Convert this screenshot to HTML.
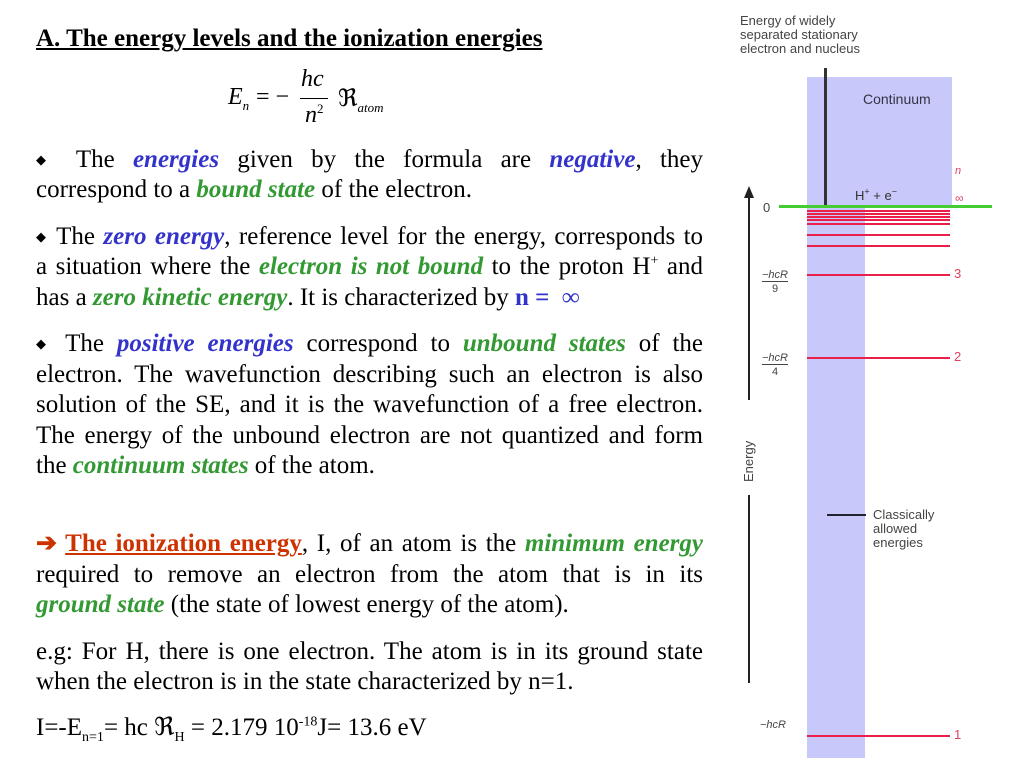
<!DOCTYPE html>
<html><head><meta charset="utf-8"><style>
body{margin:0;width:1024px;height:768px;background:#fff;position:relative;overflow:hidden;font-family:"Liberation Serif",serif;color:#000}
.l{position:absolute;left:36px;width:667px;font-size:25px;line-height:28px;white-space:nowrap}
.j{text-align:justify;text-align-last:justify}
.b{color:#3333cc;font-weight:bold;font-style:italic}
.g{color:#339933;font-weight:bold;font-style:italic}
.d{font-size:13px;vertical-align:3px}
sup,sub{line-height:0}
.s{font-family:"Liberation Sans",sans-serif;position:absolute;color:#444;font-size:13px;line-height:14px;white-space:nowrap}
</style></head><body>
<div class="l" style="top:25px;font-weight:bold;text-decoration:underline">A. The energy levels and the ionization energies</div>
<div style="position:absolute;left:228px;top:64px;font-size:24px;font-style:italic;width:200px;height:70px">
 <span style="position:absolute;left:0;top:20px">E<sub style="font-size:13px">n</sub></span>
 <span style="position:absolute;left:28px;top:20px;font-style:normal">= −</span>
 <span style="position:absolute;left:73px;top:2px">hc</span>
 <div style="position:absolute;left:72px;top:34px;width:28px;border-top:1px solid #000"></div>
 <span style="position:absolute;left:77px;top:38px">n<sup style="font-size:13px;font-style:normal">2</sup></span>
 <span style="position:absolute;left:110px;top:20px;font-style:normal">ℜ<sub style="font-size:13px;font-style:italic">atom</sub></span>
</div>
<div class="l j" style="top:146px"><span class="d">◆</span> The <span class="b">energies</span> given by the formula are <span class="b">negative</span>, they</div>
<div class="l" style="top:176px">correspond to a <span class="g">bound state</span> of the electron.</div>
<div class="l j" style="top:223px"><span class="d">◆</span> The <span class="b">zero energy</span>, reference level for the energy, corresponds to</div>
<div class="l j" style="top:253px">a situation where the <span class="g">electron is not bound</span> to the proton H<sup style="font-size:14px">+</sup> and</div>
<div class="l" style="top:284px">has a <span class="g">zero kinetic energy</span>. It is characterized by <b style="color:#3333cc">n = &nbsp;∞</b></div>
<div class="l j" style="top:330px"><span class="d">◆</span> The <span class="b">positive energies</span> correspond to <span class="g">unbound states</span> of the</div>
<div class="l j" style="top:361px">electron. The wavefunction describing such an electron is also</div>
<div class="l j" style="top:391px">solution of the SE, and it is the wavefunction of a free electron.</div>
<div class="l j" style="top:422px">The energy of the unbound electron are not quantized and form</div>
<div class="l" style="top:452px">the <span class="g">continuum states</span> of the atom.</div>
<div class="l j" style="top:530px"><span style="color:#cc3300;font-weight:bold">➔ <u>The ionization energy</u></span>, I, of an atom is the <span class="g">minimum energy</span></div>
<div class="l j" style="top:561px">required to remove an electron from the atom that is in its</div>
<div class="l" style="top:591px"><span class="g">ground state</span> (the state of lowest energy of the atom).</div>
<div class="l j" style="top:638px">e.g: For H, there is one electron. The atom is in its ground state</div>
<div class="l" style="top:668px">when the electron is in the state characterized by n=1.</div>
<div class="l" style="top:714px">I=-E<sub style="font-size:14px">n=1</sub>= hc ℜ<sub style="font-size:14px">H</sub> = 2.179 10<sup style="font-size:14px">-18</sup>J= 13.6 eV</div>

<div class="s" style="left:740px;top:14px">Energy of widely<br>separated stationary<br>electron and nucleus</div>
<div style="position:absolute;left:807px;top:77px;width:145px;height:129px;background:#c8c8fb"></div>
<div style="position:absolute;left:807px;top:206px;width:58px;height:552px;background:#c8c8fb"></div>
<div style="position:absolute;left:824px;top:68px;width:3px;height:138px;background:#333"></div>
<div class="s" style="left:863px;top:92px;color:#334;font-size:14px">Continuum</div>
<div class="s" style="left:855px;top:189px;color:#333">H<sup style="font-size:9px">+</sup> + e<sup style="font-size:9px">−</sup></div>
<div class="s" style="left:955px;top:164px;color:#e04060;font-style:italic;font-size:11px">n</div>
<div class="s" style="left:955px;top:191px;color:#e04060;font-size:12px">∞</div>
<div style="position:absolute;left:779px;top:205px;width:213px;height:3px;background:#44cc33"></div>
<svg style="position:absolute;left:0;top:0" width="1024" height="768">
<g stroke="#e8204a" stroke-width="2">
<line x1="807" x2="950" y1="211" y2="211"/><line x1="807" x2="950" y1="214" y2="214"/>
<line x1="807" x2="950" y1="217" y2="217"/><line x1="807" x2="950" y1="220" y2="220"/>
<line x1="807" x2="950" y1="224" y2="224"/><line x1="807" x2="950" y1="235" y2="235"/>
<line x1="807" x2="950" y1="246" y2="246"/><line x1="807" x2="950" y1="275" y2="275"/>
<line x1="807" x2="950" y1="358" y2="358"/><line x1="807" x2="950" y1="736" y2="736"/>
</g>
<line x1="749" y1="190" x2="749" y2="400" stroke="#222" stroke-width="2"/>
<polygon points="744,198 749,186 754,198" fill="#222"/>
<line x1="749" y1="495" x2="749" y2="683" stroke="#222" stroke-width="2"/>
<line x1="827" y1="515" x2="866" y2="515" stroke="#223" stroke-width="2"/>
<text x="0" y="0" transform="translate(753,482) rotate(-90)" font-family="Liberation Sans" font-size="13" fill="#444">Energy</text>
</svg>
<div class="s" style="left:763px;top:201px">0</div>
<div class="s" style="left:760px;top:268px;font-size:11px;text-align:center;width:30px"><i style="border-bottom:1px solid #444">−hcR</i><br>9</div>
<div class="s" style="left:760px;top:351px;font-size:11px;text-align:center;width:30px"><i style="border-bottom:1px solid #444">−hcR</i><br>4</div>
<div class="s" style="left:760px;top:718px;font-size:11px"><i>−hcR</i></div>
<div class="s" style="left:954px;top:267px;color:#e04060">3</div>
<div class="s" style="left:954px;top:350px;color:#e04060">2</div>
<div class="s" style="left:954px;top:728px;color:#e04060">1</div>
<div class="s" style="left:873px;top:508px">Classically<br>allowed<br>energies</div>
</body></html>
